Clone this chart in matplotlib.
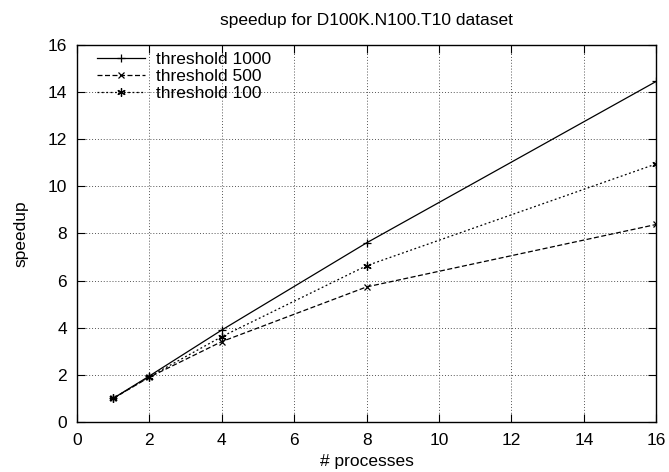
import matplotlib
matplotlib.use("Agg")
import matplotlib.pyplot as plt

plt.rcParams["font.family"] = ["Liberation Sans", "DejaVu Sans"]

processes = [1, 2, 4, 8, 16]
speedup_1000 = [1.0, 1.95, 3.9, 7.6, 14.45]
speedup_500 = [1.0, 1.9, 3.41, 5.73, 8.38]
speedup_100 = [1.0, 1.92, 3.62, 6.63, 10.95]

fs = 12.5

fig = plt.figure(figsize=(6.69, 4.72), dpi=100)
ax = fig.add_axes([0.115, 0.106, 0.866, 0.799])

asterisk = (6, 2, 0)
ax.plot(processes, speedup_1000, color="black", linestyle="-", linewidth=0.9,
        marker="+", markersize=6, markeredgewidth=0.9, label="threshold 1000")
ax.plot(processes, speedup_500, color="black", linestyle=(0, (4, 2)), linewidth=0.9,
        marker="x", markersize=5, markeredgewidth=0.9, label="threshold 500")
ax.plot(processes, speedup_100, color="black", linestyle=(0, (1.5, 2)), linewidth=0.9,
        marker=asterisk, markersize=6, markeredgewidth=0.9, label="threshold 100")

ax.set_xlim(0, 16)
ax.set_ylim(0, 16)
ax.set_xticks(range(0, 17, 2))
ax.set_yticks(range(0, 17, 2))
ax.tick_params(direction="in", top=True, right=True, length=6, width=0.8, labelsize=fs)
ax.tick_params(axis="x", pad=8)
ax.tick_params(axis="y", pad=7)
ax.grid(True, linestyle=(0, (1, 2)), color="#555555", linewidth=0.7)
for s in ax.spines.values():
    s.set_linewidth(1.0)

ax.set_xlabel("# processes", fontsize=fs, labelpad=4)
ax.set_ylabel("speedup", fontsize=fs, labelpad=14)
ax.set_title("speedup for D100K.N100.T10 dataset", fontsize=fs, pad=14)

ax.legend(loc="upper left", frameon=False, fontsize=fs, handlelength=2.8,
          handletextpad=0.6, labelspacing=0.12, borderpad=0, borderaxespad=0,
          bbox_to_anchor=(0.034, 0.982))

fig.savefig("out.png", dpi=100)
